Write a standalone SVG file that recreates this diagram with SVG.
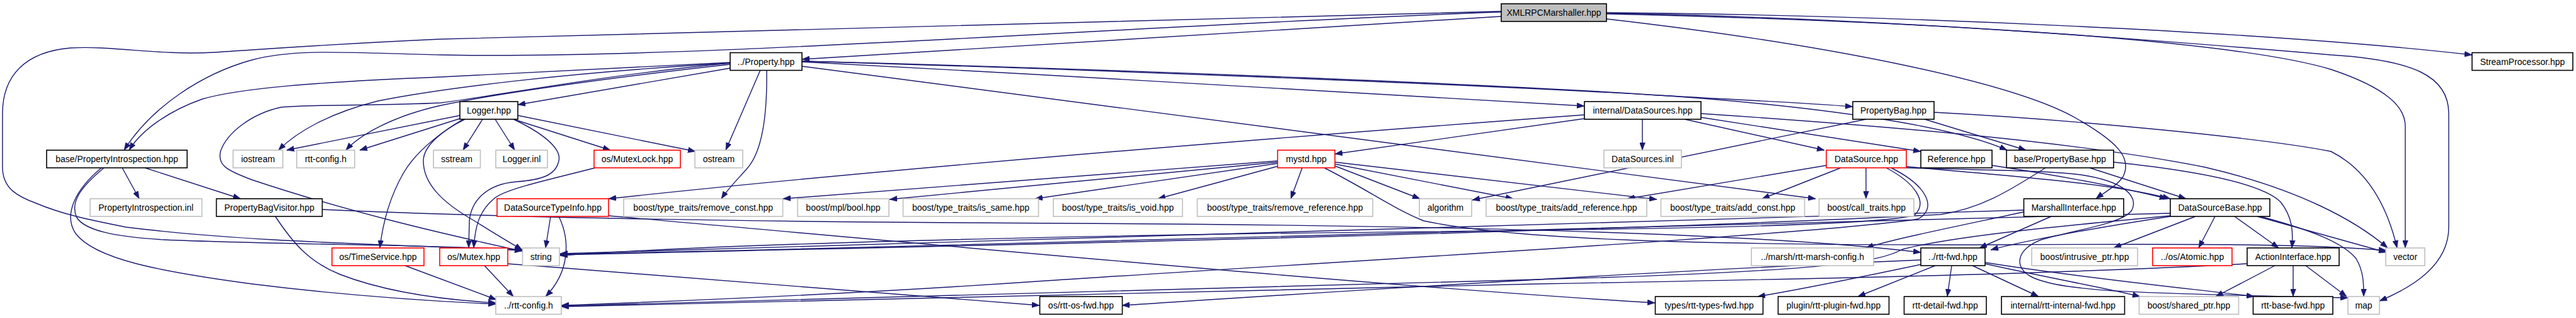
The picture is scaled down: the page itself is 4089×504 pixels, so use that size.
<svg xmlns="http://www.w3.org/2000/svg" width="4089" height="504" viewBox="0 0 4089 504">
<style>
rect{stroke-width:1.6}
.b{fill:#fff;stroke:#000}
.g{fill:#fff;stroke:#bfbfbf}
.r{fill:#fff;stroke:#ff0000}
.root{fill:#bfbfbf;stroke:#000}
text{font-family:"Liberation Sans",Arial,sans-serif;font-size:14px;fill:#000;text-anchor:middle}
#edges path{fill:none;stroke:#191970;stroke-width:1.4;marker-end:url(#arr)}
</style>
<defs>
<marker id="arr" markerUnits="userSpaceOnUse" viewBox="0 0 12 9" markerWidth="12" markerHeight="9" refX="12" refY="4.5" orient="auto">
<path d="M0,0 L12,4.5 L0,9 z" fill="#191970" stroke="#191970" stroke-width="0.5"/>
</marker>
</defs>
<rect width="4089" height="504" fill="#fff"/>
<g id="edges">
<path d="M2383,26 L1273,94"/>
<path d="M2383,19 C1800,40 1100,95 700,87 C560,84 470,76 400,95 C320,117 240,170 197,238"/>
<path d="M2383,18 C1900,28 1300,45 700,62 C520,70 420,78 340,83 C250,88 180,72 112,76 C40,82 4,120 4,180 L4,265 C4,300 30,312 57,322 C100,340 140,348 200,360 C400,385 650,388 829,397"/>
<path d="M2550,20 C3000,24 3600,50 3924,87"/>
<path d="M2550,22 C3100,35 3550,65 3700,110 C3790,140 3818,170 3818,200 L3818,393"/>
<path d="M2550,21 C3000,28 3500,70 3700,87 C3830,95 3887,120 3887,180 L3887,360 C3887,420 3830,455 3777,477"/>
<path d="M2550,30 C2900,70 3200,130 3300,190 C3360,225 3385,250 3370,280 C3360,295 3340,305 3327,315"/>
<path d="M1159,108 L822,166"/>
<path d="M1159,100 C900,115 700,140 600,160 C520,180 470,210 442,238"/>
<path d="M1159,102 C950,125 780,150 700,167 C620,185 570,215 549,238"/>
<path d="M1159,99 C950,110 800,118 700,122 C500,130 380,140 321,157 C270,175 225,205 205,238"/>
<path d="M1159,100 C950,120 800,150 700,163 C600,168 500,165 446,170 C400,180 360,210 350,240 C345,262 360,270 400,285 C550,335 700,370 829,398"/>
<path d="M1207,111 L1152,238"/>
<path d="M1217,111 C1218,180 1210,240 1186,267 C1170,285 1155,300 1145,315"/>
<path d="M1273,98 C1700,120 2200,150 2515,168"/>
<path d="M1273,97 C1800,110 2400,135 2650,152 C2750,158 2850,162 2941,169"/>
<path d="M1273,97 C1800,112 2400,137 2650,152 C2900,170 3100,200 3186,238"/>
<path d="M1273,105 L2882,315"/>
<path d="M766,189 L735,238"/>
<path d="M786,189 L817,238"/>
<path d="M815,189 L969,238"/>
<path d="M822,183 L1104,240"/>
<path d="M815,189 C860,210 892,235 887,255 C882,278 860,285 820,288 C770,292 748,320 745,350 L744,393"/>
<path d="M738,189 C705,205 672,230 672,255 C672,290 700,320 753,350 C785,370 810,385 829,396"/>
<path d="M735,189 C700,210 660,240 640,275 C620,310 608,350 603,393"/>
<path d="M730,183 L455,238"/>
<path d="M730,188 L571,238"/>
<path d="M945,266 C870,285 800,300 784,315 C760,335 754,360 752,393"/>
<path d="M769,421 L815,470"/>
<path d="M805,418 C1100,440 1400,465 1650,484"/>
<path d="M643,421 L788,475"/>
<path d="M194,266 L221,315"/>
<path d="M230,266 L382,315"/>
<path d="M165,266 C130,295 110,320 122,345 C135,365 180,375 260,380 C450,388 700,388 829,396"/>
<path d="M161,266 C120,300 100,340 120,370 C150,410 250,430 400,450 C560,470 700,478 787,482"/>
<path d="M437,343 C465,385 490,415 540,435 C610,462 700,475 787,480"/>
<path d="M511,332 C800,345 1200,352 1700,354 C2300,357 2800,370 3049,400"/>
<path d="M874,343 L866,393"/>
<path d="M887,343 C905,380 905,430 866,470"/>
<path d="M966,342 C1400,380 2200,455 2627,480"/>
<path d="M2515,182 C2000,220 1400,268 966,315"/>
<path d="M2515,188 L2119,244"/>
<path d="M2607,189 L2607,238"/>
<path d="M2674,189 L2896,238"/>
<path d="M2700,186 L3049,240"/>
<path d="M2700,180 C3000,200 3300,225 3500,265 C3650,300 3740,350 3790,393"/>
<path d="M2028,255 L1243,315"/>
<path d="M2028,257 L1412,316"/>
<path d="M2028,259 L1643,315"/>
<path d="M2030,263 L1838,315"/>
<path d="M2067,266 L2049,315"/>
<path d="M2119,263 L2254,315"/>
<path d="M2119,260 L2402,315"/>
<path d="M2119,257 L2630,316"/>
<path d="M2102,266 C2170,300 2210,330 2260,350 C2400,380 2700,388 3100,388 C3450,387 3650,385 3788,397"/>
<path d="M2900,262 L2583,315"/>
<path d="M2922,266 L2797,315"/>
<path d="M2962,266 L2962,315"/>
<path d="M3026,264 C3200,280 3350,290 3445,315"/>
<path d="M2994,266 C3040,290 3060,320 3040,340 C3000,360 2500,365 2000,370 C1500,378 1100,390 889,405"/>
<path d="M3002,266 C3060,295 3075,330 3045,347 C2900,370 2200,410 1660,445 C1300,470 1000,480 891,484"/>
<path d="M3026,266 C3150,270 3250,270 3303,277 C3370,287 3395,310 3384,333 C3370,355 3290,365 3240,380 C3200,395 3195,425 3227,440 C3280,463 3400,465 3727,472"/>
<path d="M2962,189 L2337,317"/>
<path d="M3055,189 L3216,238"/>
<path d="M3070,178 C3300,190 3600,220 3700,240 C3760,270 3790,330 3805,393"/>
<path d="M3161,262 C3280,280 3380,300 3440,315"/>
<path d="M3317,266 L3470,315"/>
<path d="M3355,257 C3480,270 3590,290 3620,320 C3640,345 3640,370 3638,393"/>
<path d="M3247,266 C3200,295 3150,330 3080,340 C2500,370 1500,390 889,404"/>
<path d="M3256,343 L3142,393"/>
<path d="M3212,336 C3100,360 3000,380 2962,393"/>
<path d="M3212,333 C2800,350 2000,375 889,402"/>
<path d="M3485,343 L3355,393"/>
<path d="M3516,343 L3490,393"/>
<path d="M3547,343 L3617,393"/>
<path d="M3583,343 L3788,400"/>
<path d="M3588,343 C3670,365 3720,385 3740,410 C3752,430 3752,450 3752,470"/>
<path d="M3445,343 C3300,365 3200,385 3160,396"/>
<path d="M3445,338 C3200,350 2000,380 889,403"/>
<path d="M3445,342 C3250,360 3100,375 3020,395 C2985,415 2900,430 2440,443 C1800,460 1200,478 891,485"/>
<path d="M3611,421 L3517,470"/>
<path d="M3640,421 L3640,470"/>
<path d="M3660,421 L3725,470"/>
<path d="M3567,418 C3300,432 3000,440 2440,450 C1800,462 1200,480 891,486"/>
<path d="M3049,412 C2600,430 2000,470 1781,484"/>
<path d="M3050,419 C2950,440 2850,460 2790,470"/>
<path d="M3072,421 L2949,470"/>
<path d="M3098,421 L3091,470"/>
<path d="M3131,421 L3236,470"/>
<path d="M3151,418 C3250,440 3350,458 3397,470"/>
<path d="M3151,416 C3300,440 3500,460 3578,470"/>
</g>
<g id="n_xmlrpc"><rect class="root" x="2383" y="6" width="167" height="28"/><text x="2466.5" y="25">XMLRPCMarshaller.hpp</text></g>
<g id="n_property"><rect class="b" x="1159" y="83.5" width="114" height="28"/><text x="1216" y="102.5">../Property.hpp</text></g>
<g id="n_stream"><rect class="b" x="3924" y="83.5" width="160" height="28"/><text x="4004" y="102.5">StreamProcessor.hpp</text></g>
<g id="n_logger"><rect class="b" x="730" y="161" width="92" height="28"/><text x="776" y="180">Logger.hpp</text></g>
<g id="n_intds"><rect class="b" x="2515" y="161" width="185" height="28"/><text x="2607.5" y="180">internal/DataSources.hpp</text></g>
<g id="n_pbag"><rect class="b" x="2941" y="161" width="129" height="28"/><text x="3005.5" y="180">PropertyBag.hpp</text></g>
<g id="n_pintro"><rect class="b" x="74" y="238" width="223" height="28"/><text x="185.5" y="257">base/PropertyIntrospection.hpp</text></g>
<g id="n_iostream"><rect class="g" x="370" y="238" width="79" height="28"/><text x="409.5" y="257">iostream</text></g>
<g id="n_rttcfg"><rect class="g" x="471" y="238" width="92" height="28"/><text x="517" y="257">rtt-config.h</text></g>
<g id="n_sstream"><rect class="g" x="688" y="238" width="74.5" height="28"/><text x="725" y="257">sstream</text></g>
<g id="n_loggerinl"><rect class="g" x="787" y="238" width="82" height="28"/><text x="828" y="257">Logger.inl</text></g>
<g id="n_mutexlock"><rect class="r" x="943" y="238" width="137" height="28"/><text x="1011.5" y="257">os/MutexLock.hpp</text></g>
<g id="n_ostream"><rect class="g" x="1103" y="238" width="76" height="28"/><text x="1141" y="257">ostream</text></g>
<g id="n_mystd"><rect class="r" x="2028" y="238" width="91" height="28"/><text x="2073.5" y="257">mystd.hpp</text></g>
<g id="n_dsinl"><rect class="g" x="2546" y="238" width="123" height="28"/><text x="2607.5" y="257">DataSources.inl</text></g>
<g id="n_datasource"><rect class="r" x="2899" y="238" width="127" height="28"/><text x="2962.5" y="257">DataSource.hpp</text></g>
<g id="n_reference"><rect class="b" x="3049" y="238" width="113" height="28"/><text x="3105.5" y="257">Reference.hpp</text></g>
<g id="n_pbase"><rect class="b" x="3185" y="238" width="170" height="28"/><text x="3270" y="257">base/PropertyBase.hpp</text></g>
<g id="n_pintroinl"><rect class="g" x="143" y="315" width="177.5" height="28"/><text x="231.75" y="334">PropertyIntrospection.inl</text></g>
<g id="n_pbagvisitor"><rect class="b" x="343.5" y="315" width="168" height="28"/><text x="427.5" y="334">PropertyBagVisitor.hpp</text></g>
<g id="n_dstypeinfo"><rect class="r" x="789" y="315" width="177" height="28"/><text x="877.5" y="334">DataSourceTypeInfo.hpp</text></g>
<g id="n_removeconst"><rect class="g" x="990" y="315" width="252.5" height="28"/><text x="1116.25" y="334">boost/type_traits/remove_const.hpp</text></g>
<g id="n_mplbool"><rect class="g" x="1266" y="315" width="145" height="28"/><text x="1338.5" y="334">boost/mpl/bool.hpp</text></g>
<g id="n_issame"><rect class="g" x="1433.5" y="315" width="215" height="28"/><text x="1541" y="334">boost/type_traits/is_same.hpp</text></g>
<g id="n_isvoid"><rect class="g" x="1672" y="315" width="205" height="28"/><text x="1774.5" y="334">boost/type_traits/is_void.hpp</text></g>
<g id="n_removeref"><rect class="g" x="1900.5" y="315" width="278.5" height="28"/><text x="2039.75" y="334">boost/type_traits/remove_reference.hpp</text></g>
<g id="n_algorithm"><rect class="g" x="2253" y="315" width="83" height="28"/><text x="2294.5" y="334">algorithm</text></g>
<g id="n_addref"><rect class="g" x="2359" y="315" width="255" height="28"/><text x="2486.5" y="334">boost/type_traits/add_reference.hpp</text></g>
<g id="n_addconst"><rect class="g" x="2636.5" y="315" width="228" height="28"/><text x="2750.5" y="334">boost/type_traits/add_const.hpp</text></g>
<g id="n_calltraits"><rect class="g" x="2887.5" y="315" width="150.5" height="28"/><text x="2962.75" y="334">boost/call_traits.hpp</text></g>
<g id="n_marshall"><rect class="b" x="3212.5" y="315" width="158.5" height="28"/><text x="3291.75" y="334">MarshallInterface.hpp</text></g>
<g id="n_dsbase"><rect class="b" x="3445" y="315" width="158" height="28"/><text x="3524" y="334">DataSourceBase.hpp</text></g>
<g id="n_timeservice"><rect class="r" x="527" y="393" width="146" height="28"/><text x="600" y="412">os/TimeService.hpp</text></g>
<g id="n_mutex"><rect class="r" x="698" y="393" width="108" height="28"/><text x="752" y="412">os/Mutex.hpp</text></g>
<g id="n_string"><rect class="g" x="829.5" y="393" width="58.5" height="28"/><text x="858.75" y="412">string</text></g>
<g id="n_marshcfg"><rect class="g" x="2780" y="393" width="194" height="28"/><text x="2877" y="412">../marsh/rtt-marsh-config.h</text></g>
<g id="n_rttfwd"><rect class="b" x="3049" y="393" width="102" height="28"/><text x="3100" y="412">../rtt-fwd.hpp</text></g>
<g id="n_intrusive"><rect class="g" x="3225" y="393" width="168" height="28"/><text x="3309" y="412">boost/intrusive_ptr.hpp</text></g>
<g id="n_atomic"><rect class="r" x="3417" y="393" width="126" height="28"/><text x="3480" y="412">../os/Atomic.hpp</text></g>
<g id="n_action"><rect class="b" x="3567" y="393" width="146" height="28"/><text x="3640" y="412">ActionInterface.hpp</text></g>
<g id="n_vector"><rect class="g" x="3787" y="393" width="62" height="28"/><text x="3818" y="412">vector</text></g>
<g id="n_rttcfg2"><rect class="g" x="787" y="470" width="104" height="28"/><text x="839" y="489">../rtt-config.h</text></g>
<g id="n_osfwd"><rect class="b" x="1650.5" y="470" width="131" height="28"/><text x="1716" y="489">os/rtt-os-fwd.hpp</text></g>
<g id="n_typesfwd"><rect class="b" x="2627.5" y="470" width="171" height="28"/><text x="2713" y="489">types/rtt-types-fwd.hpp</text></g>
<g id="n_pluginfwd"><rect class="b" x="2822.5" y="470" width="176" height="28"/><text x="2910.5" y="489">plugin/rtt-plugin-fwd.hpp</text></g>
<g id="n_detailfwd"><rect class="b" x="3022.5" y="470" width="130.5" height="28"/><text x="3087.75" y="489">rtt-detail-fwd.hpp</text></g>
<g id="n_internalfwd"><rect class="b" x="3177" y="470" width="195.5" height="28"/><text x="3274.75" y="489">internal/rtt-internal-fwd.hpp</text></g>
<g id="n_sharedptr"><rect class="g" x="3395.5" y="470" width="158" height="28"/><text x="3474.5" y="489">boost/shared_ptr.hpp</text></g>
<g id="n_basefwd"><rect class="b" x="3576.5" y="470" width="126.5" height="28"/><text x="3639.75" y="489">rtt-base-fwd.hpp</text></g>
<g id="n_map"><rect class="g" x="3727" y="470" width="50" height="28"/><text x="3752" y="489">map</text></g>
</svg>
